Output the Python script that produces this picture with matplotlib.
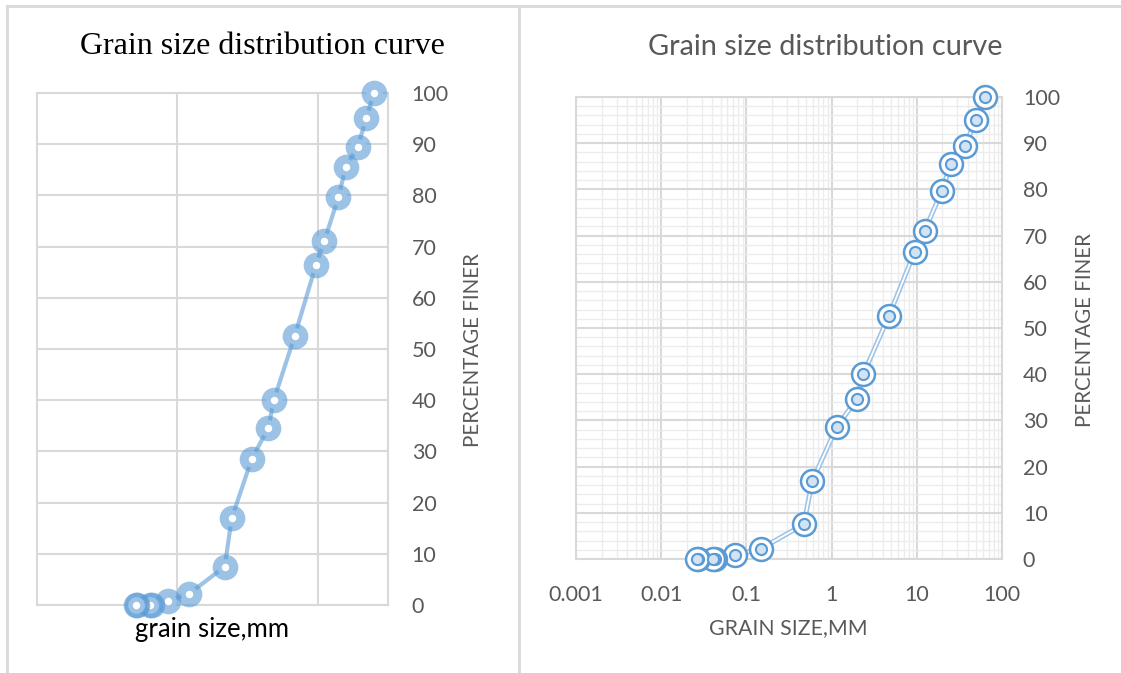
import numpy as np
import matplotlib.pyplot as plt
from matplotlib.lines import Line2D
from matplotlib.ticker import FixedLocator, NullFormatter, NullLocator

# grain size (mm) and percentage finer
size_mm = [62.7, 49.3, 36.8, 25.1, 19.7, 12.4, 9.44, 4.70, 2.36, 1.98, 1.15,
           0.593, 0.472, 0.147, 0.074, 0.043, 0.041, 0.027, 0.026]
finer = [100, 95.1, 89.4, 85.6, 79.7, 71.1, 66.5, 52.6, 40.0, 34.6, 28.6,
         16.9, 7.5, 2.2, 0.84, 0, 0, 0, 0]

y_ticks = list(range(0, 101, 10))
x_ticks = [0.001, 0.01, 0.1, 1, 10, 100]
x_labels = ['0.001', '0.01', '0.1', '1', '10', '100']
x_grid_left = [0.1, 10]

title = 'Grain size distribution curve'
grid_major = '#d9d9d9'
grid_minor = '#ececec'
txt_gray = '#595959'
blue = '#5b9bd5'
blue_a = (0.357, 0.608, 0.835, 0.6)

plt.rcParams['font.family'] = ['Lato', 'DejaVu Sans']

W, H = 1121, 673
fig = plt.figure(figsize=(W / 100, H / 100), dpi=100)


def box(x0, y0, x1, y1):
    return [x0 / W, 1 - y1 / H, (x1 - x0) / W, (y1 - y0) / H]


# panel borders
for xs, ys in [([7, 7], [6, H]), ([519, 519], [6, H]), ([7, W], [6, 6])]:
    fig.add_artist(Line2D([x / W for x in xs], [1 - y / H for y in ys],
                          color=grid_major, lw=2))

# ---- left chart ----
ax1 = fig.add_axes(box(37, 93, 388, 605))
ax1.set_xscale('log')
ax1.set_xlim(0.001, 100)
ax1.set_ylim(0, 100)
ax1.xaxis.set_major_locator(FixedLocator(x_grid_left))
ax1.xaxis.set_minor_locator(NullLocator())
ax1.xaxis.set_major_formatter(NullFormatter())
ax1.set_yticks(y_ticks)
ax1.yaxis.tick_right()
ax1.tick_params(length=0, labelsize=15.5, labelcolor=txt_gray, pad=17)
ax1.grid(True, color=grid_major, lw=1.5)
for s in ax1.spines.values():
    s.set_color(grid_major)
    s.set_linewidth(1.5)
ax1.set_axisbelow(True)
ax1.plot(size_mm, finer, color=blue_a, lw=3, marker='o', ms=12, mew=6.5,
         mec=blue_a, mfc='white', clip_on=False, zorder=3)

fig.text(262 / W, 1 - 46 / H, title, ha='center', va='center', fontsize=23,
         family='Liberation Serif', color='black')
fig.text(212 / W, 1 - 630 / H, 'grain size,mm', ha='center', va='center',
         fontsize=18.5, color='black')
fig.text(473 / W, 1 - 350 / H, 'PERCENTAGE FINER', ha='center', va='center',
         rotation=90, fontsize=14.8, color=txt_gray)

# ---- right chart ----
ax2 = fig.add_axes(box(576, 97, 1002, 559))
ax2.set_xscale('log')
ax2.set_xlim(0.001, 100)
ax2.set_ylim(0, 100)
ax2.set_xticks(x_ticks)
ax2.set_xticklabels(x_labels)
ax2.set_yticks(y_ticks)
ax2.set_yticks(np.arange(0, 101, 2), minor=True)
ax2.yaxis.tick_right()
ax2.tick_params(which='both', length=0, labelsize=15.5, labelcolor=txt_gray)
ax2.tick_params(axis='x', pad=19)
ax2.tick_params(axis='y', pad=15)
ax2.grid(True, which='minor', color=grid_minor, lw=1)
ax2.grid(True, which='major', color=grid_major, lw=1.5)
for s in ax2.spines.values():
    s.set_color(grid_major)
    s.set_linewidth(1.5)
ax2.set_axisbelow(True)
ax2.plot(size_mm, finer, color='#9dc3e6', lw=3.6, zorder=3)
ax2.plot(size_mm, finer, color='white', lw=1.3, zorder=3)
ax2.plot(size_mm, finer, ls='none', marker='o', ms=16.5, mew=1.8,
         mec=blue, mfc='white', clip_on=False, zorder=4)
ax2.plot(size_mm, finer, ls='none', marker='o', ms=8, mew=1.5,
         mec=blue, mfc='#d2e3f3', clip_on=False, zorder=5)

fig.text(825 / W, 1 - 47 / H, title, ha='center', va='center', fontsize=20.8,
         color=txt_gray)
fig.text(788 / W, 1 - 628 / H, 'GRAIN SIZE,MM', ha='center', va='center',
         fontsize=15.3, color=txt_gray)
fig.text(1085 / W, 1 - 330 / H, 'PERCENTAGE FINER', ha='center', va='center',
         rotation=90, fontsize=14.8, color=txt_gray)

fig.savefig('out.png', dpi=100)
